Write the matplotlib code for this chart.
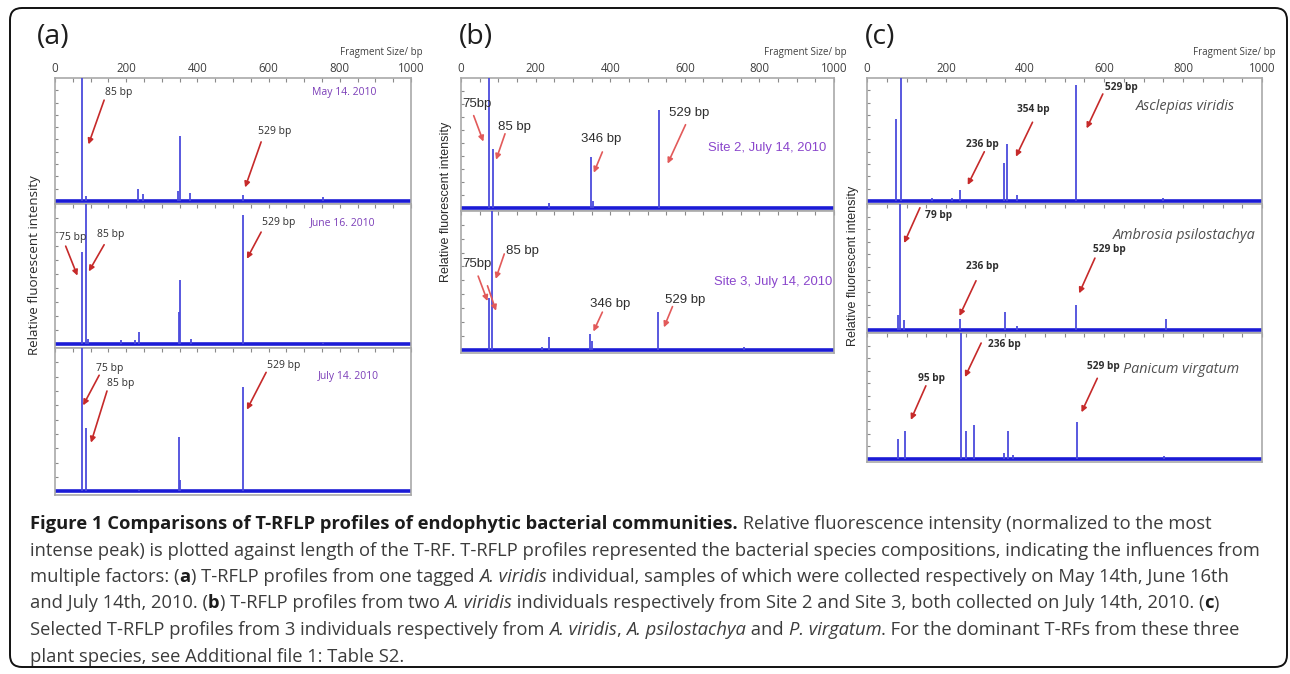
import re
import numpy as np
import matplotlib
matplotlib.use("Agg")
import matplotlib.pyplot as plt
from matplotlib.patches import FancyBboxPatch
from matplotlib.transforms import IdentityTransform

W, H = 1290, 674

# ---------------- data ----------------
ticks_bp = [0, 200, 400, 600, 800, 1000]
tick_labels = ["0", "200", "400", "600", "800", "1000"]

# panel (a): one A. viridis individual, three dates
a_may_pos = [77, 87, 234, 248, 345, 350, 380, 529, 752]
a_may_h = [1.05, 0.04, 0.10, 0.06, 0.08, 0.53, 0.065, 0.05, 0.03]
a_jun_pos = [76, 87, 92, 184, 226, 237, 347, 351, 381, 529, 752]
a_jun_h = [0.66, 1.05, 0.04, 0.03, 0.03, 0.09, 0.23, 0.46, 0.04, 0.92, 0.02]
a_jul_pos = [75, 86, 236, 347, 352, 529]
a_jul_h = [1.05, 0.44, 0.02, 0.38, 0.08, 0.73]

# panel (b): two sites
b_s2_pos = [75, 85, 237, 348, 353, 530]
b_s2_h = [1.05, 0.45, 0.04, 0.39, 0.05, 0.75]
b_s3_pos = [75, 84, 216, 236, 347, 352, 529, 759]
b_s3_h = [0.37, 1.05, 0.02, 0.09, 0.11, 0.06, 0.27, 0.02]

# panel (c): three plant species
c_av_pos = [74, 85, 165, 215, 235, 348, 354, 380, 529, 750]
c_av_h = [0.67, 1.05, 0.02, 0.02, 0.09, 0.31, 0.46, 0.05, 0.94, 0.02]
c_ap_pos = [78, 84, 94, 235, 349, 380, 529, 757]
c_ap_h = [0.12, 1.05, 0.08, 0.09, 0.14, 0.03, 0.20, 0.09]
c_pv_pos = [78, 97, 237, 251, 271, 346, 357, 370, 532, 752]
c_pv_h = [0.16, 0.22, 1.05, 0.22, 0.27, 0.05, 0.22, 0.03, 0.29, 0.02]

panel_names = ["(a)", "(b)", "(c)"]
a_samples = ["May 14. 2010", "June 16. 2010", "July 14. 2010"]
b_samples = ["Site 2, July 14, 2010", "Site 3, July 14, 2010"]
c_samples = ["Asclepias viridis", "Ambrosia psilostachya", "Panicum virgatum"]
x_title = "Fragment Size/ bp"
y_title = "Relative fluorescent intensity"

caption_lines = [
    "{b:Figure 1 Comparisons of T-RFLP profiles of endophytic bacterial communities.} Relative fluorescence intensity (normalized to the most",
    "intense peak) is plotted against length of the T-RF. T-RFLP profiles represented the bacterial species compositions, indicating the influences from",
    "multiple factors: ({b:a}) T-RFLP profiles from one tagged {i:A. viridis} individual, samples of which were collected respectively on May 14th, June 16th",
    "and July 14th, 2010. ({b:b}) T-RFLP profiles from two {i:A. viridis} individuals respectively from Site 2 and Site 3, both collected on July 14th, 2010. ({b:c})",
    "Selected T-RFLP profiles from 3 individuals respectively from {i:A. viridis}, {i:A. psilostachya} and {i:P. virgatum}. For the dominant T-RFs from these three",
    "plant species, see Additional file 1: Table S2.",
]

# ---------------- styles ----------------
BASE = "#1b1bd6"
PEAK = "#4b4bdc"
SPINE = "#a9a9a9"
RED_A = "#c62a2a"
RED_B = "#e25a5a"
PURPLE = "#7b3db8"
LABEL = "#2e2e2e"
CHART_FONT = ["Open Sans", "DejaVu Sans"]
ARIAL = ["Liberation Sans", "DejaVu Sans"]

fig = plt.figure(figsize=(W / 100, H / 100), dpi=100)
fig.patch.set_facecolor("white")


def fx(x):
    return x / W


def fy(y):
    return 1 - y / H


def make_ax(x0, x1, y0, y1):
    return fig.add_axes([fx(x0), fy(y1), fx(x1 - x0), (y1 - y0) / H])


def style_profile(ax, pos, h, first):
    ax.plot([0, 1000], [0, 0], color=BASE, lw=2.6, solid_capstyle="butt", zorder=2)
    ax.vlines(pos, 0, h, color=PEAK, lw=1.3, zorder=3)
    ax.set_xlim(0, 1000)
    ax.set_ylim(-0.025, 1.0)
    for sp in ax.spines.values():
        sp.set_color(SPINE)
        sp.set_linewidth(1.2)
    ax.set_xticks(ticks_bp)
    ax.set_xticks(np.arange(0, 1001, 50), minor=True)
    if first:
        ax.set_xticklabels(tick_labels)
    ax.tick_params(axis="x", which="both", direction="in", top=True, bottom=False,
                   labeltop=first, labelbottom=False, length=3, width=0.8,
                   color="#8a8a8a", labelsize=8.3, pad=2, labelcolor="#404040")
    for t in ax.get_xticklabels():
        t.set_fontfamily(CHART_FONT)
    ax.set_yticks(np.arange(0, 1.0, 0.1))
    ax.tick_params(axis="y", direction="in", length=2.5, width=0.8, color="#8a8a8a",
                   labelleft=False)


def annotate(ax, label, txt_xy, start, end, color, size, family, weight="normal"):
    ax.text(txt_xy[0], txt_xy[1], label, ha="left", va="center", fontsize=size,
            color=LABEL, family=family, fontweight=weight, zorder=5)
    ax.annotate("", xy=end, xytext=start,
                arrowprops=dict(arrowstyle="-|>", color=color, lw=1.2,
                                mutation_scale=8, shrinkA=0, shrinkB=0), zorder=5)


# ---------------- panel (a) ----------------
ax_a1 = make_ax(55, 411, 78, 204)
ax_a2 = make_ax(55, 411, 204, 348)
ax_a3 = make_ax(55, 411, 348, 495)
style_profile(ax_a1, a_may_pos, a_may_h, True)
style_profile(ax_a2, a_jun_pos, a_jun_h, False)
style_profile(ax_a3, a_jul_pos, a_jul_h, False)

fs_a = 7.5
annotate(ax_a1, "85 bp", (140, 0.88), (138, 0.82), (94, 0.46), RED_A, fs_a, CHART_FONT)
annotate(ax_a1, "529 bp", (570, 0.565), (579, 0.48), (534, 0.11), RED_A, fs_a, CHART_FONT)
ax_a1.text(722, 0.88, a_samples[0], ha="left", va="center", fontsize=fs_a, color=PURPLE, family=CHART_FONT)

annotate(ax_a2, "75 bp", (11, 0.76), (30, 0.70), (63, 0.49), RED_A, fs_a, CHART_FONT)
annotate(ax_a2, "85 bp", (118, 0.78), (138, 0.71), (95, 0.52), RED_A, fs_a, CHART_FONT)
annotate(ax_a2, "529 bp", (581, 0.87), (579, 0.80), (539, 0.61), RED_A, fs_a, CHART_FONT)
ax_a2.text(716, 0.87, a_samples[1], ha="left", va="center", fontsize=fs_a, color=PURPLE, family=CHART_FONT)

annotate(ax_a3, "75 bp", (115, 0.86), (124, 0.81), (79, 0.60), RED_A, fs_a, CHART_FONT)
annotate(ax_a3, "85 bp", (146, 0.75), (146, 0.70), (101, 0.34), RED_A, fs_a, CHART_FONT)
annotate(ax_a3, "529 bp", (596, 0.88), (593, 0.83), (539, 0.57), RED_A, fs_a, CHART_FONT)
ax_a3.text(739, 0.80, a_samples[2], ha="left", va="center", fontsize=fs_a, color=PURPLE, family=CHART_FONT)

# ---------------- panel (b) ----------------
ax_b1 = make_ax(461, 834, 78, 211)
ax_b2 = make_ax(461, 834, 211, 353)
style_profile(ax_b1, b_s2_pos, b_s2_h, True)
style_profile(ax_b2, b_s3_pos, b_s3_h, False)

fs_b = 9.5
annotate(ax_b1, "75bp", (3, 0.80), (34, 0.71), (60, 0.51), RED_B, fs_b, ARIAL)
annotate(ax_b1, "85 bp", (98, 0.62), (118, 0.57), (94, 0.37), RED_B, fs_b, ARIAL)
annotate(ax_b1, "346 bp", (322, 0.53), (379, 0.43), (356, 0.27), RED_B, fs_b, ARIAL)
annotate(ax_b1, "529 bp", (558, 0.73), (602, 0.64), (554, 0.34), RED_B, fs_b, ARIAL)
ax_b1.text(663, 0.46, b_samples[0], ha="left", va="center", fontsize=9.4, color="#8a46cc", family=ARIAL)

annotate(ax_b2, "75bp", (3, 0.62), (46, 0.53), (71, 0.35), RED_B, fs_b, ARIAL)
ax_b2.annotate("", xy=(94, 0.28), xytext=(71, 0.46),
               arrowprops=dict(arrowstyle="-|>", color=RED_B, lw=1.2, mutation_scale=8,
                               shrinkA=0, shrinkB=0), zorder=5)
annotate(ax_b2, "85 bp", (120, 0.71), (116, 0.69), (93, 0.51), RED_B, fs_b, ARIAL)
annotate(ax_b2, "346 bp", (346, 0.33), (379, 0.27), (355, 0.13), RED_B, fs_b, ARIAL)
annotate(ax_b2, "529 bp", (547, 0.36), (567, 0.31), (544, 0.16), RED_B, fs_b, ARIAL)
ax_b2.text(678, 0.49, b_samples[1], ha="left", va="center", fontsize=9.4, color="#8a46cc", family=ARIAL)

# ---------------- panel (c) ----------------
ax_c1 = make_ax(867, 1262, 78, 204)
ax_c2 = make_ax(867, 1262, 204, 333)
ax_c3 = make_ax(867, 1262, 333, 462)
style_profile(ax_c1, c_av_pos, c_av_h, True)
style_profile(ax_c2, c_ap_pos, c_ap_h, False)
style_profile(ax_c3, c_pv_pos, c_pv_h, False)

fs_c = 7.3
annotate(ax_c1, "529 bp", (603, 0.92), (597, 0.87), (556, 0.59), RED_A, fs_c, CHART_FONT, "bold")
annotate(ax_c1, "354 bp", (381, 0.74), (419, 0.64), (377, 0.36), RED_A, fs_c, CHART_FONT, "bold")
annotate(ax_c1, "236 bp", (250, 0.46), (297, 0.40), (255, 0.13), RED_A, fs_c, CHART_FONT, "bold")
ax_c1.text(681, 0.77, c_samples[0], ha="left", va="center", fontsize=10.4, color="#505050",
           style="italic", family=CHART_FONT)

annotate(ax_c2, "79 bp", (147, 0.91), (134, 0.97), (94, 0.69), RED_A, fs_c, CHART_FONT, "bold")
annotate(ax_c2, "529 bp", (573, 0.64), (577, 0.57), (537, 0.29), RED_A, fs_c, CHART_FONT, "bold")
annotate(ax_c2, "236 bp", (250, 0.50), (276, 0.39), (234, 0.11), RED_A, fs_c, CHART_FONT, "bold")
ax_c2.text(622, 0.75, c_samples[1], ha="left", va="center", fontsize=10.4, color="#505050",
           style="italic", family=CHART_FONT)

annotate(ax_c3, "236 bp", (307, 0.91), (289, 0.92), (248, 0.65), RED_A, fs_c, CHART_FONT, "bold")
annotate(ax_c3, "95 bp", (130, 0.64), (149, 0.58), (111, 0.31), RED_A, fs_c, CHART_FONT, "bold")
annotate(ax_c3, "529 bp", (558, 0.73), (583, 0.64), (543, 0.37), RED_A, fs_c, CHART_FONT, "bold")
ax_c3.text(647, 0.71, c_samples[2], ha="left", va="center", fontsize=10.4, color="#505050",
           style="italic", family=CHART_FONT)

# ---------------- panel texts ----------------
for name, x in zip(panel_names, [37, 459, 865]):
    fig.text(fx(x), fy(37), name, ha="left", va="center", fontsize=20.5, color="#1e1e1e",
             family=CHART_FONT)
for xr in [423, 847, 1276]:
    fig.text(fx(xr), fy(53), x_title, ha="right", va="center", fontsize=7, color="#404040",
             family=CHART_FONT)
fig.text(fx(35), fy(265), y_title, rotation=90, ha="center", va="center", fontsize=9.6,
         color="#2a2a2a", family=CHART_FONT)
fig.text(fx(446), fy(202), y_title, rotation=90, ha="center", va="center", fontsize=9,
         color="#2a2a2a", family=ARIAL)
fig.text(fx(853), fy(266), y_title, rotation=90, ha="center", va="center", fontsize=9,
         color="#2a2a2a", family=ARIAL)

# ---------------- border ----------------
border = FancyBboxPatch((10, H - 667), 1277, 659, boxstyle="round,pad=0,rounding_size=12",
                        transform=IdentityTransform(), facecolor="none", edgecolor="#111111",
                        lw=1.4, zorder=0)
fig.patches.append(border)

# ---------------- caption ----------------
CAP_FAMILY = ["Liberation Sans Narrow", "Open Sans", "DejaVu Sans"]
renderer = fig.canvas.get_renderer()


def parse(line):
    pieces = []
    for m in re.finditer(r"\{([bi]):([^}]*)\}|([^{]+)", line):
        if m.group(3):
            pieces.append((m.group(3), "n"))
        else:
            pieces.append((m.group(2), m.group(1)))
    return pieces


def props(st, size):
    d = dict(fontsize=size, family=CAP_FAMILY, color="#3c3c3c")
    if st == "b":
        d.update(fontweight="bold", color="#1c1c1c")
    elif st == "i":
        d.update(style="italic")
    return d


def measure(text, st, size):
    t = fig.text(0, 0, text, **props(st, size))
    w = t.get_window_extent(renderer).width
    t.remove()
    return w


# fit font size so that the widest (second) line spans ~1234 px
ref_size = 12.0
w_ref = sum(measure(txt, st, ref_size) for txt, st in parse(caption_lines[1]))
cap_size = ref_size * 1226.0 / w_ref

cap_y = [522, 548.5, 575, 601.5, 628, 654.5]
for line, y in zip(caption_lines, cap_y):
    x = 30.0
    for txt, st in parse(line):
        fig.text(fx(x), fy(y), txt, ha="left", va="center_baseline", **props(st, cap_size))
        x += measure(txt, st, cap_size)

fig.savefig("out.png", dpi=100, facecolor="white")
